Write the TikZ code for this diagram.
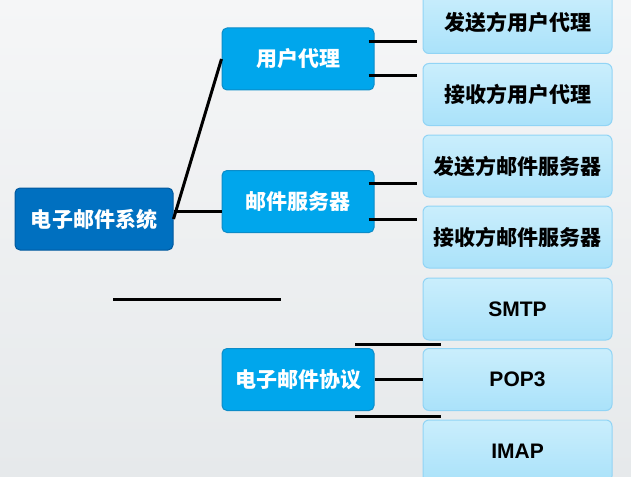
\documentclass[tikz,border=0pt]{standalone}
\usepackage{fontspec}
\setmainfont{Noto Sans CJK SC}
\newfontfamily\latinfont{Liberation Sans}
\usepackage{tikz}
\usetikzlibrary{shapes, positioning, calc}
\definecolor{rootblue}{RGB}{0, 112, 192}
\definecolor{rootedge}{RGB}{0, 88, 158}
\definecolor{midblue}{RGB}{0, 166, 236}
\definecolor{midedge}{RGB}{12, 140, 200}
\definecolor{leaftop}{RGB}{202, 238, 252}
\definecolor{leafbot}{RGB}{170, 226, 250}
\definecolor{leafedge}{RGB}{145, 212, 245}
\definecolor{bgtop}{RGB}{245, 246, 247}
\definecolor{bgbot}{RGB}{230, 233, 235}

\begin{document}
\begin{tikzpicture}[x=0.5pt, y=-0.5pt,
        root/.style={draw=rootedge, fill=rootblue, rounded corners=2.5pt, minimum width=79pt, minimum height=31pt, text=white, font=\fontsize{10.5}{12}\selectfont\bfseries, line width=0.5pt},
        topic/.style={draw=midedge, fill=midblue, rounded corners=2.5pt, minimum width=76pt, minimum height=31pt, text=white, font=\fontsize{10.5}{12}\selectfont\bfseries, line width=0.5pt},
        leaf/.style={draw=leafedge, top color=leaftop, bottom color=leafbot, rounded corners=3pt, minimum width=94.5pt, minimum height=31pt, font=\fontsize{10.5}{12}\selectfont\bfseries, line width=0.5pt},
        link/.style={line width=1.5pt, black},
      ]
      \shade[top color=bgtop, bottom color=bgbot] (0,0) rectangle (631,476);
      \useasboundingbox (0,0) rectangle (631,476);

      \node[root] (mail) at (94, 219) {电子邮件系统};
      \node[topic] (agent) at (298, 59) {用户代理};
      \node[topic] (server) at (298, 201.5) {邮件服务器};
      \node[topic] (proto) at (298, 379.5) {电子邮件协议};

      \node[leaf] (sendagent) at (517.5, 22.5) {发送方用户代理};
      \node[leaf] (recvagent) at (517.5, 94.5) {接收方用户代理};
      \node[leaf] (sendserver) at (517.5, 166) {发送方邮件服务器};
      \node[leaf] (recvserver) at (517.5, 237) {接收方邮件服务器};
      \node[leaf] (smtp) at (517.5, 309) {\latinfont\bfseries SMTP};
      \node[leaf] (pop) at (517.5, 379.5) {\latinfont\bfseries POP3};
      \node[leaf] (imap) at (517.5, 451) {\latinfont\bfseries IMAP};

      \draw[link] (mail.east) -- (agent.west);
      \draw[link] ([yshift=4pt]mail.east) -- ([yshift=4pt]mail.east -| server.west);
      \draw[link] ([xshift=-3pt, yshift=8.5pt]agent.east) -- ([xshift=-3pt, yshift=8.5pt]agent.east -| sendagent.west);
      \draw[link] ([xshift=-3pt, yshift=-8.5pt]agent.east) -- ([xshift=-3pt, yshift=-8.5pt]agent.east -| recvagent.west);
      \draw[link] ([xshift=-3pt, yshift=9pt]server.east) -- ([xshift=-3pt, yshift=9pt]server.east -| sendserver.west);
      \draw[link] ([xshift=-3pt, yshift=-9pt]server.east) -- ([xshift=-3pt, yshift=-9pt]server.east -| recvserver.west);
      \draw[link] (proto.east) -- (proto.east -| pop.west);

      \coordinate (loose1) at (113, 299);
      \coordinate (loose2) at (281, 299);
      \coordinate (upper1) at (355, 344.5);
      \coordinate (upper2) at (441, 344.5);
      \coordinate (lower1) at (355, 416.5);
      \coordinate (lower2) at (441, 416.5);
      \draw[link] (loose1) -- (loose2);
      \draw[link] (upper1) -- (upper2);
      \draw[link] (lower1) -- (lower2);
      \end{tikzpicture}
\end{document}
